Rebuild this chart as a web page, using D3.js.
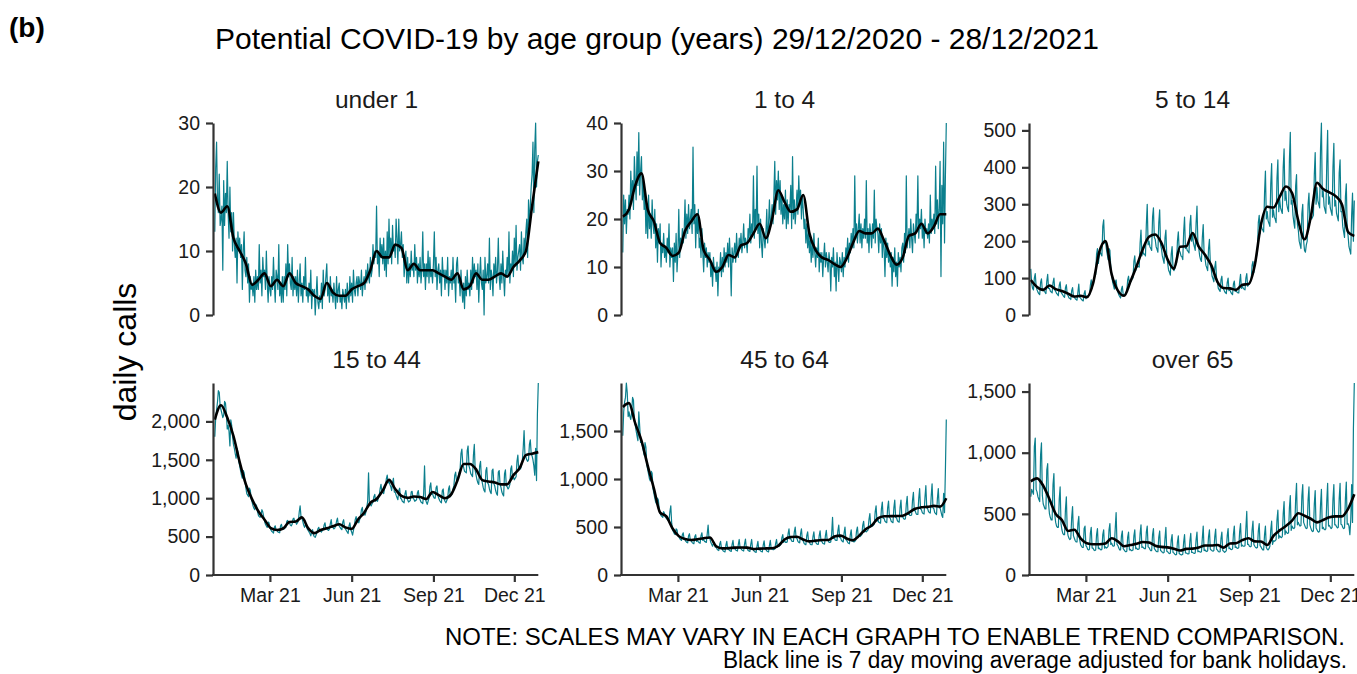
<!DOCTYPE html>
<html><head><meta charset="utf-8">
<script src="https://cdn.jsdelivr.net/npm/d3@7"></script>
<style>
body{margin:0;background:#fff}
svg{display:block}
text{font-family:"Liberation Sans",Arial,Helvetica,sans-serif}
</style>
</head><body>
<svg id="chart" width="1357" height="674"></svg>
<script>
// ---------- DATA ----------
const startDate = "2020-12-29"; // first day, last day 2021-12-28
const groups = ["under 1", "1 to 4", "5 to 14", "15 to 44", "45 to 64", "over 65"];

const under1Daily = [
13,23,27,18,16,22,14, 15,17,7,21,14,19,16, 24,16,12,20,13,16,10, 16,11,9,12,5,13,10,
12,9,11,4,10,13,7, 6,9,5,8,2,6,4, 5,3,6,2,7,4,6, 4,11,5,7,3,9,6,
7,4,10,5,2,6,4, 3,6,4,9,5,2,7, 6,4,11,3,5,2,6, 2,6,4,8,3,11,6,
8,5,4,9,3,6,4, 6,3,7,2,5,8,3, 5,2,6,4,9,3,4, 2,5,3,7,1,4,3,
4,0,3,6,2,1,3, 2,5,1,7,3,4,6, 8,3,5,2,6,3,4, 2,5,3,1,6,2,4,
5,2,3,1,4,3,2, 4,1,5,3,2,6,3, 5,2,7,4,3,5,6, 3,6,5,4,7,3,5,
6,4,7,5,8,6,5, 9,6,7,11,8,10,9, 17,8,10,6,12,9,11, 8,12,7,10,6,13,8,
15,9,12,8,14,10,11, 9,15,12,8,15,10,11, 13,9,11,6,8,10,5, 9,5,8,6,10,7,8,
6,11,7,9,5,8,6, 9,5,7,13,6,8,4, 8,6,10,5,9,6,7, 5,8,13,6,9,4,7,
8,5,7,3,9,6,7, 4,7,5,9,3,6,5, 7,4,9,5,6,2,8, 9,5,6,3,7,4,2,
5,1,6,3,7,4,5, 3,7,4,9,5,8,6, 7,4,8,2,6,9,5, 4,7,0,9,5,6,8,
5,12,4,7,6,3,8, 6,9,5,7,12,6,4, 8,5,10,6,3,7,6, 9,6,13,5,8,7,10,
6,12,8,14,7,9,10, 11,7,13,9,8,12,10, 13,15,9,18,14,17,20, 22,27,16,26,30,20,24,
25];
const under1Avg = [19,16,17,12,10,8,4.7,5.5,6.5,4.5,5.5,4.5,6.5,5,4.5,4,3,2.5,5,3.5,3,3,4,4.5,5,7,10,9,9,11,10.5,7,8,7,7,7,6.5,6,5.5,6.5,4,4.5,6.5,5.5,5.5,6,6.5,6,7.5,8.5,10,17,24];

const oneToFourDaily = [
13,25,19,24,17,22,21, 25,20,30,24,28,22,33, 28,24,34,27,38,25,30, 33,24,28,22,26,17,23,
16,25,18,21,16,24,19, 17,22,14,19,11,18,15, 19,10,15,13,17,12,14, 11,16,13,19,10,14,12,
14,7,15,11,17,9,13, 22,12,16,14,18,15,17, 24,16,21,17,23,18,20, 22,17,35,19,23,14,21,
17,22,14,16,12,18,13, 9,15,12,14,10,13,11, 13,8,11,6,12,9,10, 7,11,4,10,9,13,8,
12,9,14,10,13,11,15, 10,16,12,4,14,11,13, 15,11,17,13,12,16,14, 17,13,15,19,14,16,15,
13,18,16,21,15,19,17, 29,16,22,18,31,17,21, 14,20,15,12,18,16,14, 17,22,15,19,24,18,20,
23,19,25,32,21,28,24, 30,22,28,21,25,19,23, 20,26,18,24,19,23,22, 27,18,33,20,24,19,22,
26,21,29,23,26,20,25, 22,18,20,15,19,14,17, 13,16,11,15,12,17,13, 10,14,12,16,9,13,11,
13,8,12,15,10,13,11, 9,13,11,5,12,10,14, 8,11,5,13,10,7,12, 11,9,13,8,12,10,14,
12,16,11,15,13,17,14, 18,14,29,16,19,15,18, 21,15,19,14,18,16,20, 16,28,15,18,13,19,17,
14,19,16,26,15,20,18, 17,13,19,15,18,12,16, 14,8,16,12,15,11,13, 10,13,6,12,9,14,8,
11,6,13,10,12,9,14, 15,11,17,13,29,14,16, 18,14,20,16,13,19,17, 15,21,18,29,16,20,18,
22,16,19,14,20,17,18, 16,19,15,25,17,20,18, 21,17,31,19,24,18,22, 32,8,27,19,36,15,29,
40];
const oneToFourAvg = [20.5,22,27,29.5,22,19.5,15,14,12.3,13,17.5,19.5,21,13.5,11.5,9,10,12.5,12,14.5,15,17,19,16,20,26,23.5,21.5,22,25,17,13.5,12,11.5,10.6,10,11.8,15,17.5,17,17,18,15.5,12.5,10.5,12,16.5,17,19,17,18.4,21,21];

const fiveTo14Daily = [
125,85,72,68,100,112,78, 68,62,58,55,88,98,66, 70,64,62,58,92,110,72, 72,65,62,60,88,100,68,
64,58,56,52,80,90,62, 58,54,50,48,74,82,56, 52,46,45,42,66,74,50, 48,44,42,40,62,84,48,
46,42,40,38,58,66,44, 52,50,52,55,80,95,72, 90,95,105,110,165,180,140, 160,170,165,160,240,258,195,
200,180,165,150,180,175,130, 110,90,80,70,90,95,70, 62,55,50,46,70,78,54, 55,56,60,64,95,105,80,
95,92,98,100,145,160,120, 135,130,132,130,195,230,160, 175,165,165,160,245,300,190, 200,185,180,175,265,290,210,
205,185,178,170,250,285,190, 180,160,150,140,210,230,160, 140,122,116,108,165,185,128, 120,125,135,140,200,225,175,
170,160,158,150,225,265,180, 185,175,172,168,245,270,200, 220,195,185,175,250,295,195, 180,160,150,145,210,245,165,
155,135,128,120,180,205,140, 125,105,98,90,130,145,100, 88,72,68,64,95,105,72, 70,64,60,58,88,100,66,
68,62,58,55,84,92,64, 66,62,60,60,90,110,72, 80,72,70,68,100,112,78, 82,85,90,95,135,145,115,
140,145,160,175,250,270,220, 245,235,230,225,330,390,260, 280,255,248,240,355,410,265, 285,265,260,250,370,420,280,
315,290,282,275,400,450,310, 335,300,288,280,420,495,300, 310,270,250,235,350,380,245, 230,200,190,180,275,300,200,
175,170,190,200,300,330,250, 265,260,265,270,380,440,300, 345,310,300,290,450,520,320, 335,295,285,275,410,500,300,
320,290,280,270,400,465,295, 310,275,265,255,385,420,280, 280,240,225,210,320,355,230, 215,185,175,165,270,330,200,
310];
const fiveTo14Avg = [95,76,68,80,70,65,58,50,52,48,85,170,200,110,66,52,90,132,178,212,218,195,150,125,185,186,222,185,163,135,90,73,72,68,82,84,135,245,293,291,320,348,330,255,205,265,358,341,332,322,300,225,214];

const fifteenTo44Daily = [
1800,2050,2150,2250,2400,2380,2200, 2150,2100,2050,2080,2260,2240,2100, 1900,1950,1870,1680,2020,1950,1800, 1700,1650,1580,1520,1650,1600,1480,
1420,1360,1300,1260,1360,1330,1220, 1130,1060,1040,1020,1130,1100,990, 950,900,870,850,920,900,830, 780,760,750,780,850,820,760,
700,660,640,620,690,680,620, 590,570,560,545,620,640,580, 580,560,555,550,640,660,600, 620,600,610,620,700,710,680,
680,650,640,660,730,740,690, 690,660,680,700,820,900,760, 740,700,650,620,650,640,600, 580,560,540,510,560,590,520,
500,490,520,560,600,620,580, 570,560,580,590,650,680,600, 600,590,580,600,670,720,620, 620,600,610,640,700,740,650,
640,620,600,590,690,720,620, 600,580,560,540,640,680,590, 560,520,580,640,720,760,690, 700,680,720,760,850,880,780,
790,780,820,880,960,1330,920, 920,900,930,950,1020,1050,960, 980,960,1000,1040,1120,1180,1080, 1080,1060,1120,1160,1250,1300,1200,
1220,1180,1150,1100,1200,1260,1080, 1080,1040,1010,980,1100,1130,1000, 990,960,950,940,1060,1100,1000, 980,950,960,970,1080,1090,1000,
990,960,970,980,1070,1100,1000, 980,950,940,930,1060,1420,990, 950,920,960,1000,1150,1200,1050, 1060,1020,1000,1000,1140,1160,1030,
1000,970,950,940,1100,1120,990, 960,940,970,1000,1120,1160,1020, 1040,1060,1120,1160,1300,1340,1220, 1240,1280,1340,1380,1580,1640,1450,
1400,1350,1340,1330,1620,1680,1420, 1380,1320,1300,1280,1560,1700,1360, 1300,1240,1200,1180,1420,1480,1260, 1200,1140,1100,1080,1360,1400,1200,
1180,1120,1080,1060,1360,1380,1190, 1160,1100,1060,1040,1340,1360,1180, 1140,1080,1050,1030,1320,1370,1160, 1150,1120,1140,1180,1380,1420,1250,
1280,1240,1260,1280,1480,1560,1360, 1400,1380,1420,1480,1650,1880,1560, 1540,1500,1480,1500,1700,1760,1580, 1550,1500,1420,1300,1650,1230,2100,
2500];
const fifteenTo44Avg = [2022,2210,2050,1810,1470,1180,985,830,720,610,585,605,690,696,750,610,545,585,609,635,660,620,600,720,810,940,990,1100,1239,1120,1030,1005,1022,1015,990,1080,1040,1000,1050,1230,1445,1445,1375,1235,1217,1205,1180,1180,1300,1391,1560,1580,1600];

const fortyFiveTo64Daily = [
1450,1700,1800,1850,2000,1900,1650, 1700,1650,1620,1700,1850,1820,1600, 1560,1500,1450,1400,1700,1550,1380, 1400,1350,1300,1250,1380,1330,1150,
1100,1050,1000,980,1080,1060,900, 850,800,760,740,800,780,680, 640,620,610,600,660,640,600, 590,580,570,560,660,720,540,
470,450,430,420,480,470,410, 400,380,370,360,420,440,370, 370,350,340,335,410,430,360, 355,340,330,325,400,420,350,
360,345,335,330,410,440,360, 370,350,345,340,430,520,380, 380,340,320,300,330,320,290, 290,270,260,255,320,350,280,
265,250,245,240,310,350,270, 270,255,250,245,320,360,275, 275,260,255,250,320,370,280, 275,260,255,250,325,375,280,
275,255,250,245,320,370,275, 260,245,240,235,300,350,265, 265,250,245,240,310,355,270, 265,250,245,240,310,360,270,
275,265,265,270,330,370,290, 310,300,310,320,390,420,340, 360,340,340,345,430,480,375, 380,355,350,350,450,500,385,
380,350,340,335,430,480,365, 355,330,320,315,410,450,350, 340,320,315,315,400,450,350, 345,325,320,320,410,460,355,
350,330,325,322,410,465,360, 360,340,340,345,430,600,380, 390,365,360,360,460,520,390, 390,360,350,345,440,500,370,
360,340,330,325,420,470,350, 360,345,350,360,460,500,390, 410,400,410,420,520,560,450, 460,450,460,470,580,640,500,
520,510,520,530,660,720,560, 580,550,545,540,690,760,590, 590,560,550,545,700,770,600, 590,560,550,545,700,780,600,
595,565,555,550,705,780,605, 610,585,580,585,740,820,630, 640,620,620,625,780,860,670, 670,640,630,630,800,900,690,
680,650,640,635,810,930,700, 690,660,650,645,820,950,700, 690,650,640,630,800,900,700, 700,660,620,600,850,650,1100,
1620];
const fortyFiveTo64Avg = [1750,1790,1580,1400,1140,900,650,610,485,405,375,364,372,383,390,300,277,280,285,287,285,270,275,277,278,305,370,395,398,370,350,358,364,364,400,410,380,362,410,475,515,590,612,613,614,618,650,690,705,710,720,712,800];

const over65Daily = [
640,700,680,660,1050,1120,700, 680,640,620,600,980,1080,650, 580,560,540,540,860,910,580, 500,470,450,450,740,830,490,
430,400,390,390,620,720,420, 370,340,330,330,540,640,360, 320,300,290,300,470,560,320, 300,280,270,270,420,480,290,
250,235,225,225,380,400,240, 230,210,205,210,340,390,220, 220,205,200,205,330,380,215, 220,210,205,210,330,370,220,
230,220,225,235,370,420,250, 260,240,235,240,380,510,250, 240,220,205,205,320,360,215, 205,195,190,195,310,350,205,
210,200,200,205,320,370,215, 220,210,210,215,340,410,225, 230,220,215,215,350,400,230, 225,210,200,200,330,380,215,
205,195,190,190,310,360,200, 195,185,180,185,300,390,195, 190,180,175,178,285,330,185, 180,170,165,168,270,320,175,
170,165,165,170,270,330,180, 180,175,172,175,280,340,185, 185,180,176,180,290,350,190, 195,190,186,190,300,400,200,
205,195,192,198,315,370,210, 205,198,195,200,315,375,210, 205,192,188,190,300,350,200, 195,185,190,200,320,380,215,
220,210,208,212,335,400,225, 230,220,218,225,355,420,235, 245,235,235,240,380,520,250, 250,235,230,235,370,440,250,
235,225,220,225,360,420,240, 230,215,205,205,330,400,225, 210,205,215,235,370,440,250, 280,275,280,290,450,530,300,
320,310,305,315,500,600,330, 360,345,340,345,550,650,365, 400,385,380,390,620,750,410, 430,410,400,405,645,740,430,
410,390,380,385,615,720,410, 385,365,355,360,580,690,385, 370,355,350,360,575,700,380, 390,375,370,378,600,750,400,
405,390,380,390,620,740,410, 410,395,385,390,625,750,415, 410,390,380,385,625,760,415, 420,400,330,450,740,430,1200,
1570];
const over65Avg = [766,790,730,620,500,450,360,370,300,260,252,252,258,300,275,235,245,255,270,265,240,230,226,215,200,214,216,225,241,241,245,224,258,260,285,300,275,274,245,320,365,400,445,505,485,460,430,450,472,479,479,540,660];

const under1Ticks = [0, 10, 20, 30];
const oneToFourTicks = [0, 10, 20, 30, 40];
const fiveTo14Ticks = [0, 100, 200, 300, 400, 500];
const fifteenTo44Ticks = [0, 500, 1000, 1500, 2000];
const fortyFiveTo64Ticks = [0, 500, 1000, 1500];
const over65Ticks = [0, 500, 1000, 1500];

const xTickDates = ["2021-03-01", "2021-06-01", "2021-09-01", "2021-12-01"];
const xTickLabels = ["Mar 21", "Jun 21", "Sep 21", "Dec 21"];

const titleText = "Potential COVID-19 by age group (years) 29/12/2020 - 28/12/2021";
const panelLabel = "(b)";
const yAxisTitle = "daily calls";
const noteLines = ["NOTE: SCALES MAY VARY IN EACH GRAPH TO ENABLE TREND COMPARISON.",
                   "Black line is 7 day moving average adjusted for bank holidays."];

// ---------- DRAW ----------
const svg = d3.select("#chart");
const parse = d3.utcParse("%Y-%m-%d");
const t0 = parse(startDate);
const panels = [
  {name: groups[0], daily: under1Daily, avg: under1Avg, ticks: under1Ticks},
  {name: groups[1], daily: oneToFourDaily, avg: oneToFourAvg, ticks: oneToFourTicks},
  {name: groups[2], daily: fiveTo14Daily, avg: fiveTo14Avg, ticks: fiveTo14Ticks},
  {name: groups[3], daily: fifteenTo44Daily, avg: fifteenTo44Avg, ticks: fifteenTo44Ticks},
  {name: groups[4], daily: fortyFiveTo64Daily, avg: fortyFiveTo64Avg, ticks: fortyFiveTo64Ticks},
  {name: groups[5], daily: over65Daily, avg: over65Avg, ticks: over65Ticks}
];

const TEAL = "#0b7f8d", AX = "#333333", TXT = "#1a1a1a";
const colLeft = [213, 621, 1029];
const rowBottom = [315, 575], rowTop = [123, 383];
const fmt = d3.format(",");

panels.forEach((p, k) => {
  const c = k % 3, r = Math.floor(k / 3);
  const left = colLeft[c];
  const dates = p.daily.map((_, i) => d3.utcDay.offset(t0, i));
  const x = d3.scaleUtc().domain([t0, d3.utcDay.offset(t0, 364)]).range([left + 1.8, left + 325.3]);
  const y = d3.scaleLinear().domain([0, d3.max(p.daily)]).range([rowBottom[r], rowTop[r]]);
  const g = svg.append("g");

  g.append("text").attr("x", (left + 1.8 + left + 325.3) / 2).attr("y", r === 0 ? 108 : 368)
    .attr("text-anchor", "middle").attr("font-size", 24.5).attr("fill", TXT).text(p.name);

  g.append("path").datum(p.daily)
    .attr("fill", "none").attr("stroke", TEAL).attr("stroke-width", 1.2).attr("stroke-linejoin", "round")
    .attr("d", d3.line().x((d, i) => x(dates[i])).y(d => y(d)));
  g.append("path").datum(p.avg)
    .attr("fill", "none").attr("stroke", "#000").attr("stroke-width", 2.6).attr("stroke-linejoin", "round")
    .attr("d", d3.line().x((d, i) => x(d3.utcDay.offset(t0, i * 7))).y(d => y(d)).curve(d3.curveMonotoneX));

  const ya = g.append("g").attr("transform", `translate(${left},0)`)
    .call(d3.axisLeft(y).tickValues(p.ticks).tickFormat(fmt).tickSize(7).tickSizeOuter(0).tickPadding(6));
  ya.select(".domain").attr("stroke", AX).attr("stroke-width", 2.2);
  ya.selectAll(".tick line").attr("stroke", AX).attr("stroke-width", 2.2);
  ya.selectAll(".tick text").attr("font-size", 19.5).attr("fill", TXT).attr("font-family", "Liberation Sans, Arial, sans-serif");

  if (r === 1) {
    const xa = g.append("g").attr("transform", `translate(0,${rowBottom[r]})`)
      .call(d3.axisBottom(x).tickValues(xTickDates.map(parse)).tickFormat((d, i) => xTickLabels[i])
        .tickSize(7).tickSizeOuter(0).tickPadding(6));
    xa.select(".domain").attr("stroke", AX).attr("stroke-width", 2.2).attr("d", `M${left - 1},0H${left + 325.3}`);
    xa.selectAll(".tick line").attr("stroke", AX).attr("stroke-width", 2.2);
    xa.selectAll(".tick text").attr("font-size", 19.5).attr("fill", TXT).attr("font-family", "Liberation Sans, Arial, sans-serif");
  }
});

svg.append("text").attr("x", 9).attr("y", 37).attr("font-size", 28).attr("font-weight", "bold").attr("fill", "#000").text(panelLabel);
svg.append("text").attr("x", 215).attr("y", 49).attr("font-size", 30).attr("fill", "#000").text(titleText);
svg.append("text").attr("transform", "translate(136,352) rotate(-90)").attr("text-anchor", "middle")
  .attr("font-size", 32).attr("fill", "#000").text(yAxisTitle);
svg.append("text").attr("x", 1345).attr("y", 645).attr("text-anchor", "end")
  .attr("font-size", 23.5).attr("textLength", 900).attr("lengthAdjust", "spacingAndGlyphs").attr("fill", "#000").text(noteLines[0]);
svg.append("text").attr("x", 1347).attr("y", 668).attr("text-anchor", "end")
  .attr("font-size", 23).attr("textLength", 624).attr("lengthAdjust", "spacingAndGlyphs").attr("fill", "#000").text(noteLines[1]);
</script>
</body></html>
